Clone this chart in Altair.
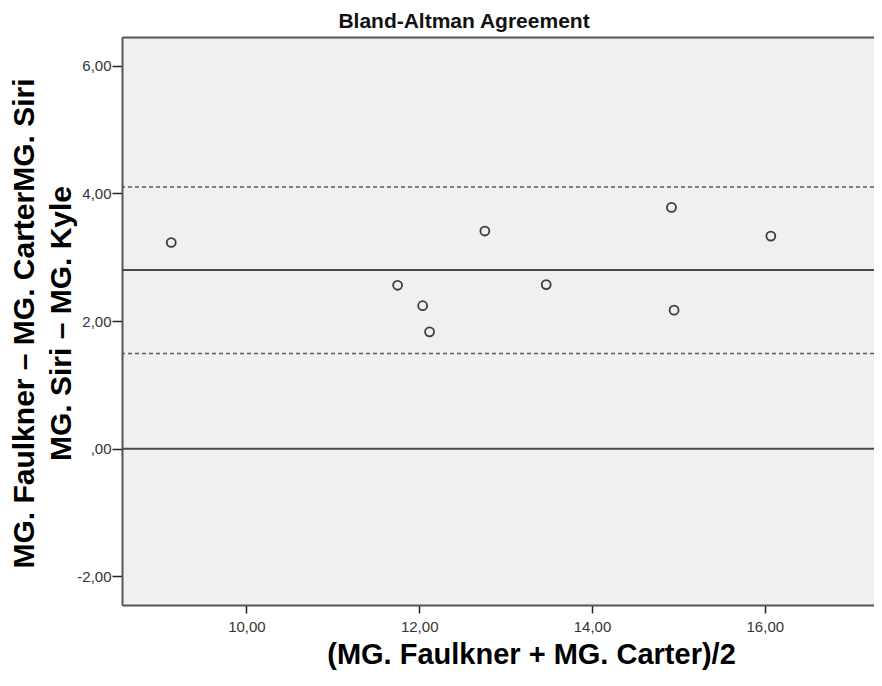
import altair as alt
import pandas as pd

# Data
mean_vals = [9.13, 11.75, 12.04, 12.12, 12.76, 13.47, 14.92, 14.95, 16.07]
diff_vals = [3.23, 2.56, 2.24, 1.83, 3.41, 2.57, 3.78, 2.17, 3.33]
solid_lines = [0.0, 2.80]
dashed_lines = [4.10, 1.49]

x_ticks = [10, 12, 14, 16]
y_ticks = [-2, 0, 2, 4, 6]

title_text = "Bland-Altman Agreement"
x_title = "(MG. Faulkner + MG. Carter)/2"
y_title = ["MG. Faulkner – MG. CarterMG. Siri", "MG. Siri – MG. Kyle"]

pts = pd.DataFrame({"mean": mean_vals, "diff": diff_vals})
solid_df = pd.DataFrame({"v": solid_lines})
dash_df = pd.DataFrame({"v": dashed_lines})

FONT = "Liberation Sans"
xscale = alt.Scale(domain=[8.56, 17.264], nice=False, zero=False)
yscale = alt.Scale(domain=[-2.45, 6.45], nice=False, zero=False)

lab_x = "replace(format(datum.value, '.2f'), '.', ',')"
lab_y = ("datum.value == 0 ? ',00' : (datum.value < 0 ? '-' : '') + "
         "replace(format(abs(datum.value), '.2f'), '.', ',')")

points = alt.Chart(pts).mark_point(
    shape="circle", filled=False, size=80, strokeWidth=1.8, color="#3c3c3c", opacity=1
).encode(
    x=alt.X("mean:Q", scale=xscale,
            axis=alt.Axis(values=x_ticks, labelExpr=lab_x, title=x_title,
                          grid=False, tickSize=8, tickWidth=1.5, tickColor="#222",
                          domainColor="#555", domainWidth=2,
                          labelFont=FONT, labelFontSize=15, labelColor="#333",
                          labelPadding=6,
                          titleFont=FONT, titleFontSize=29, titleFontWeight="bold",
                          titleColor="#000", titleX=409, titleY=58,
                          titleBaseline="alphabetic", titleAlign="center")),
    y=alt.Y("diff:Q", scale=yscale,
            axis=alt.Axis(values=y_ticks, labelExpr=lab_y, title=y_title,
                          grid=False, tickSize=10, tickWidth=1.5, tickColor="#222",
                          domainColor="#555", domainWidth=2,
                          labelFont=FONT, labelFontSize=15, labelColor="#333",
                          labelPadding=1,
                          titleFont=FONT, titleFontSize=30, titleFontWeight="bold",
                          titleColor="#000", titleX=-113, titleY=286,
                          titleBaseline="top", titleAlign="center",
                          titleAngle=270, titleLineHeight=37)),
)

top_frame = alt.Chart(pts).mark_point(opacity=0).encode(
    x=alt.X("mean:Q", scale=xscale,
            axis=alt.Axis(orient="top", labels=False, ticks=False, grid=False,
                          title=None, domainColor="#555", domainWidth=2)),
)

solid = alt.Chart(solid_df).mark_rule(color="#4a4a4a", strokeWidth=2).encode(
    y=alt.Y("v:Q", scale=yscale)
)
dashed = alt.Chart(dash_df).mark_rule(color="#5a5a5a", strokeWidth=1.6,
                                      strokeDash=[4, 3]).encode(
    y=alt.Y("v:Q", scale=yscale)
)

chart = alt.layer(solid, dashed, points, top_frame).resolve_axis(
    x="independent"
).properties(
    width=752, height=568,
    autosize=alt.AutoSizeParams(type="none"),
    padding={"left": 114, "top": 29, "right": 0, "bottom": 67},
    background="white",
    title=alt.TitleParams(title_text, font=FONT, fontSize=21, fontWeight="bold",
                          color="#111", anchor="middle", dx=-34, dy=22, offset=10,
                          baseline="alphabetic"),
).configure_view(
    fill="#f0f0f0", stroke=None
)

chart.save("out.html", embed_options={"renderer": "svg", "actions": False})
